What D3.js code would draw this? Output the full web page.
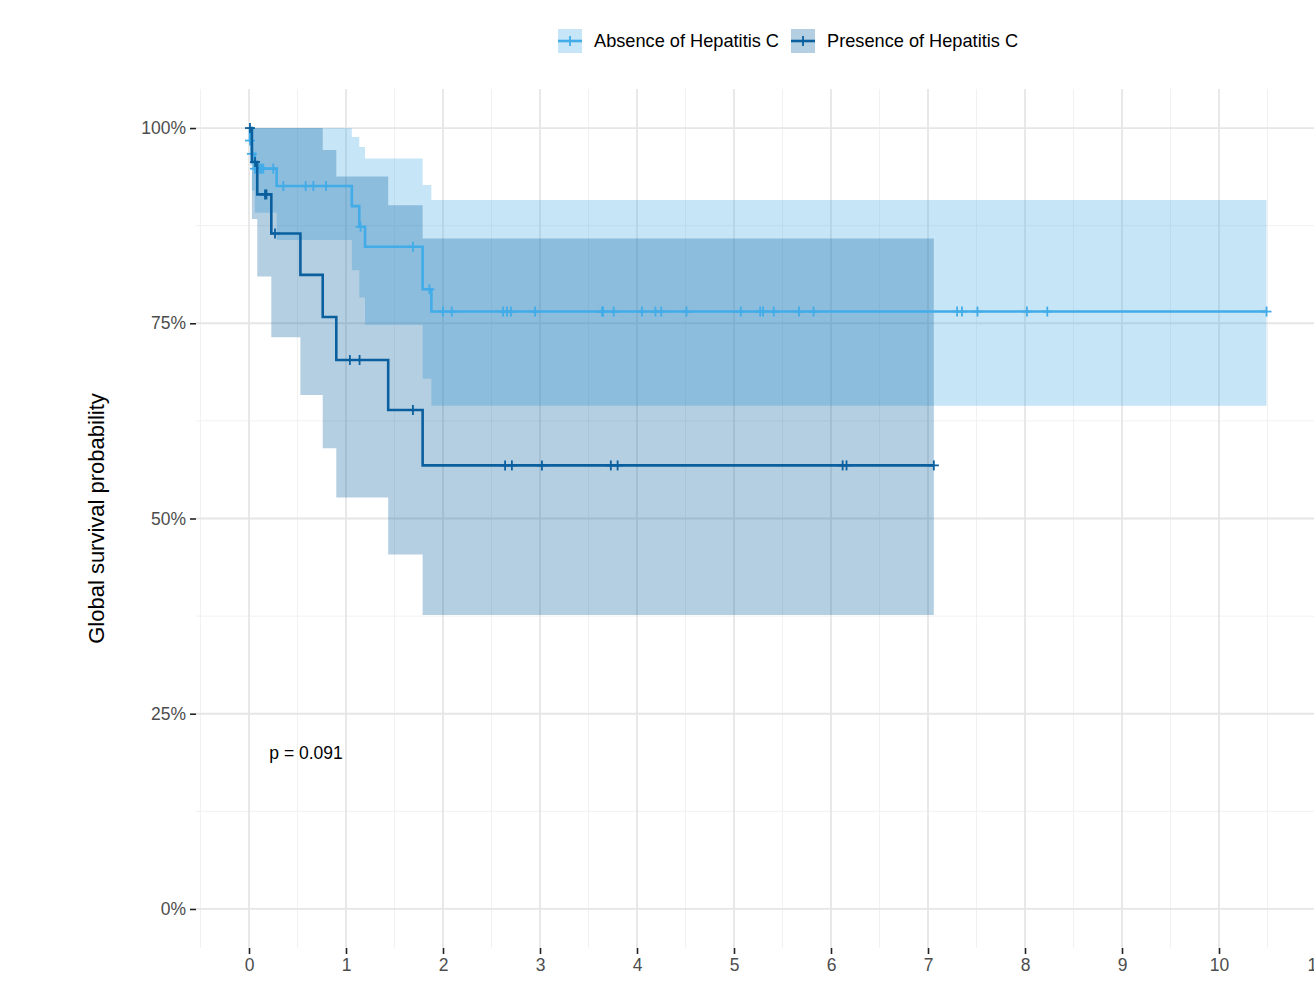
<!DOCTYPE html>
<html>
<head>
<meta charset="utf-8">
<script src="https://cdn.jsdelivr.net/npm/d3@7"></script>
<style>
  body { margin: 0; background: #ffffff; }
  svg { display: block; font-family: "Liberation Sans", Arial, sans-serif; }
</style>
</head>
<body>
<svg id="chart" width="1314" height="981"></svg>
<script>
// group names and colours
const groups = ['Absence of Hepatitis C', 'Presence of Hepatitis C'];
const groupColors = ['#41ace8', '#0a5f9e'];

// Kaplan-Meier steps (years, survival)
const absenceTimes = [0, 0.01, 0.03, 0.06, 0.285, 1.06, 1.137, 1.196, 1.79, 1.88];
const absenceSurv = [1, 0.984, 0.967, 0.948, 0.9257, 0.900, 0.8736, 0.848, 0.7935, 0.765];
const absenceUpper = [1, 1, 1, 1, 1, 0.9885, 0.9757, 0.961, 0.927, 0.908];
const absenceLower = [1, 0.952, 0.92, 0.8915, 0.8566, 0.818, 0.783, 0.748, 0.679, 0.6445];
const absenceEnd = 10.49;
const absenceCensor = [0.01, 0.03, 0.062, 0.113, 0.131, 0.148, 0.25, 0.354, 0.584, 0.663, 0.794,
    1.15, 1.69, 1.86, 2.00, 2.09, 2.62, 2.66, 2.70, 2.95, 3.64, 3.65, 3.76, 4.05, 4.19, 4.25,
    4.51, 5.07, 5.27, 5.30, 5.41, 5.67, 5.82, 7.30, 7.35, 7.51, 8.02, 8.23, 10.49];

const presenceTimes = [0, 0.03, 0.085, 0.23, 0.53, 0.76, 0.90, 1.435, 1.79];
const presenceSurv = [1, 0.9565, 0.915, 0.865, 0.812, 0.758, 0.703, 0.639, 0.568];
const presenceUpper = [1, 1, 1, 1, 1, 0.972, 0.938, 0.901, 0.8587];
const presenceLower = [1, 0.8835, 0.81, 0.732, 0.658, 0.5898, 0.527, 0.454, 0.3764];
const presenceEnd = 7.06;
const presenceCensor = [0.01, 0.062, 0.165, 0.18, 0.268, 1.04, 1.14, 1.69, 2.64, 2.71, 3.02,
    3.73, 3.80, 6.12, 6.16, 7.06];

// axis ticks
const xTicks = [0, 1, 2, 3, 4, 5, 6, 7, 8, 9, 10, 11];
const yTicks = [0, 0.25, 0.5, 0.75, 1];
const yTitle = 'Global survival probability';
const pText = 'p = 0.091';

function buildSteps(times, surv, upper, lower, end) {
    var rows = times.map((t, i) => ({ t: t, s: surv[i], hi: upper[i], lo: lower[i] }));
    var last = rows[rows.length - 1];
    rows.push({ t: end, s: last.s, hi: last.hi, lo: last.lo });
    return rows;
}

function survAt(rows, t) {
    var s = rows[0].s;
    rows.forEach((r) => { if (r.t <= t) s = r.s; });
    return s;
}

const series = [
    { name: groups[0], color: groupColors[0], rows: buildSteps(absenceTimes, absenceSurv, absenceUpper, absenceLower, absenceEnd), censor: absenceCensor },
    { name: groups[1], color: groupColors[1], rows: buildSteps(presenceTimes, presenceSurv, presenceUpper, presenceLower, presenceEnd), censor: presenceCensor }
];

const svg = d3.select('#chart');

const panel = { left: 196, top: 89, bottom: 948, right: 1314 };
const unit = 97; // px per year

const xScale = d3.scaleLinear()
    .domain([-0.55, 11.55])
    .range([249 - 0.55 * unit, 249 + 11.55 * unit]);

const yScale = d3.scaleLinear()
    .domain([-0.05, 1.05])
    .range([panel.bottom, panel.top]);

// grid
const grid = svg.append('g');
const xMinor = d3.range(-0.5, 12, 1);
const yMinor = [0.125, 0.375, 0.625, 0.875];

grid.selectAll('.vminor')
    .data(xMinor)
    .enter()
    .append('line')
    .attr('x1', (d) => xScale(d)).attr('x2', (d) => xScale(d))
    .attr('y1', panel.top).attr('y2', panel.bottom)
    .attr('stroke', '#f1f1f1').attr('stroke-width', 1);

grid.selectAll('.hminor')
    .data(yMinor)
    .enter()
    .append('line')
    .attr('x1', panel.left).attr('x2', panel.right)
    .attr('y1', (d) => yScale(d)).attr('y2', (d) => yScale(d))
    .attr('stroke', '#f1f1f1').attr('stroke-width', 1);

grid.selectAll('.vmajor')
    .data(xTicks)
    .enter()
    .append('line')
    .attr('x1', (d) => xScale(d)).attr('x2', (d) => xScale(d))
    .attr('y1', panel.top).attr('y2', panel.bottom)
    .attr('stroke', '#e6e6e6').attr('stroke-width', 1.8);

grid.selectAll('.hmajor')
    .data(yTicks)
    .enter()
    .append('line')
    .attr('x1', panel.left).attr('x2', panel.right)
    .attr('y1', (d) => yScale(d)).attr('y2', (d) => yScale(d))
    .attr('stroke', '#e6e6e6').attr('stroke-width', 1.8);

// confidence bands
const band = d3.area()
    .curve(d3.curveStepAfter)
    .x((d) => xScale(d.t))
    .y0((d) => yScale(d.lo))
    .y1((d) => yScale(d.hi));

svg.append('g')
    .selectAll('path')
    .data(series)
    .enter()
    .append('path')
    .attr('d', (d) => band(d.rows))
    .attr('fill', (d) => d.color)
    .attr('fill-opacity', 0.3);

// survival curves
const line = d3.line()
    .curve(d3.curveStepAfter)
    .x((d) => xScale(d.t))
    .y((d) => yScale(d.s));

const curves = svg.append('g')
    .selectAll('g')
    .data(series)
    .enter()
    .append('g');

curves.append('path')
    .attr('d', (d) => line(d.rows))
    .attr('fill', 'none')
    .attr('stroke', (d) => d.color)
    .attr('stroke-width', 2.6);

// censor marks
curves.each(function (d) {
    var g = d3.select(this);
    var marks = g.selectAll('.cens')
        .data(d.censor.map((t) => ({ t: t, s: survAt(d.rows, t) })))
        .enter()
        .append('g')
        .attr('transform', (c) => `translate(${xScale(c.t)}, ${yScale(c.s)})`);
    marks.append('line')
        .attr('x1', 0).attr('x2', 0).attr('y1', -5).attr('y2', 5)
        .attr('stroke', d.color).attr('stroke-width', 1.8);
    marks.append('line')
        .attr('x1', -5).attr('x2', 5).attr('y1', 0).attr('y2', 0)
        .attr('stroke', d.color).attr('stroke-width', 1.8);
});

// axes
const xAxis = svg.append('g')
    .attr('transform', `translate(0, ${panel.bottom})`)
    .call(d3.axisBottom(xScale).tickValues(xTicks).tickSize(6).tickPadding(5).tickFormat(d3.format('d')));

const yAxis = svg.append('g')
    .attr('transform', `translate(${panel.left}, 0)`)
    .call(d3.axisLeft(yScale).tickValues(yTicks).tickSize(6).tickPadding(4).tickFormat(d3.format('.0%')));

[xAxis, yAxis].forEach((ax) => {
    ax.select('.domain').remove();
    ax.selectAll('.tick line').attr('stroke', '#222').attr('stroke-width', 1.6);
    ax.selectAll('.tick text')
        .attr('fill', '#4d4d4d')
        .style('font-size', '17.5px')
        .style('font-family', '"Liberation Sans", Arial, sans-serif');
});

// axis title
svg.append('text')
    .attr('transform', `translate(104, ${(panel.top + panel.bottom) / 2}) rotate(-90)`)
    .attr('text-anchor', 'middle')
    .style('font-size', '22px')
    .attr('fill', '#000')
    .text(yTitle);

// p-value
svg.append('text')
    .attr('x', xScale(absenceEnd / 50))
    .attr('y', yScale(0.2))
    .attr('dy', '0.35em')
    .style('font-size', '17.5px')
    .attr('fill', '#000')
    .text(pText);

// legend
const legend = svg.append('g');
var lx = 558;
const ly = 29;
series.forEach((d) => {
    var item = legend.append('g').attr('transform', `translate(${lx}, ${ly})`);
    item.append('rect')
        .attr('width', 24).attr('height', 24)
        .attr('fill', d.color).attr('fill-opacity', 0.3);
    item.append('line')
        .attr('x1', 0).attr('x2', 24).attr('y1', 12).attr('y2', 12)
        .attr('stroke', d.color).attr('stroke-width', 2.6);
    item.append('line')
        .attr('x1', 12).attr('x2', 12).attr('y1', 7).attr('y2', 17)
        .attr('stroke', d.color).attr('stroke-width', 1.8);
    var label = item.append('text')
        .attr('x', 36).attr('y', 12).attr('dy', '0.35em')
        .style('font-size', '18.2px')
        .attr('fill', '#000')
        .text(d.name);
    lx += 36 + label.node().getComputedTextLength() + 12;
});
</script>
</body>
</html>
